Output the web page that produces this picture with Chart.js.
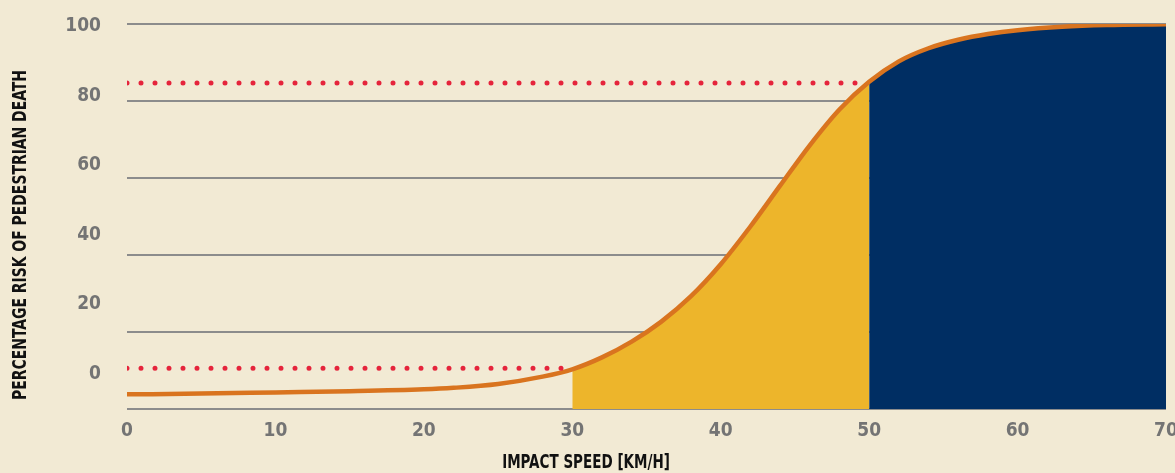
<!DOCTYPE html>
<html lang="en">
<head>
    <meta charset="UTF-8">
    <title>Pedestrian death risk by impact speed</title>
    <script src="https://cdn.jsdelivr.net/npm/chart.js"></script>
    <style>
        body {
            margin: 0;
            background-color: #F2EAD4; /* beige */
        }
        .chart-box {
            width: 1175px;
            height: 473px;
            position: relative;
        }
    </style>
</head>
<body>

    <div class="chart-box">
        <canvas id="riskChart"></canvas>
    </div>

<script>
    // impact speed (km/h) and risk of death (%)
    const speeds = [0, 5, 10, 15, 20, 22, 25, 28, 30, 32, 34, 36, 38, 40, 42, 44, 46, 48, 50, 52, 54, 56, 58, 60, 63, 66, 70];
    const risk = [3.8, 4.0, 4.3, 4.6, 5.1, 5.5, 6.5, 8.4, 10.3, 13.4, 17.5, 22.7, 29.3, 37.6, 47.4, 58.0, 68.5, 77.8, 85.0, 90.3, 93.7, 95.9, 97.4, 98.4, 99.3, 99.75, 99.95];

    // shaded bands: [from, to] speed
    const yellowBand = [30, 50];
    const navyBand = [50, 70];

    // dotted reference lines: speed where they stop and risk level
    const refSpeeds = [29.5, 49.2];
    const refRisk = [10.6, 84.7];

    const xTicks = [0, 10, 20, 30, 40, 50, 60, 70];
    const yTickLabels = [0, 20, 40, 60, 80, 100];

    const xTitle = "IMPACT SPEED [KM/H]";
    const yTitle = "PERCENTAGE RISK OF PEDESTRIAN DEATH";

    const narrow = "'Liberation Sans Narrow', 'DejaVu Sans Condensed', sans-serif";

    const curve = speeds.map((s, i) => ({ x: s, y: risk[i] }));
    const band = (r) => curve.filter(p => p.x >= r[0] && p.x <= r[1]);
    const refLine = (i) => [{ x: 0, y: refRisk[i] }, { x: refSpeeds[i], y: refRisk[i] }];

    // axis titles sit off-centre in the original, so draw them by hand
    const titlePlugin = {
        id: 'titles',
        afterDraw(chart) {
            const ctx = chart.ctx;
            ctx.save();
            ctx.fillStyle = '#111';
            ctx.font = 'bold 19px ' + narrow;
            ctx.textAlign = 'center';
            ctx.textBaseline = 'middle';
            ctx.save();
            ctx.translate(586, 463);
            ctx.scale(0.79, 1);
            ctx.fillText(xTitle, 0, 0);
            ctx.restore();
            ctx.translate(21, 235);
            ctx.rotate(-Math.PI / 2);
            ctx.scale(0.815, 1);
            ctx.fillText(yTitle, 0, 0);
            ctx.restore();
        }
    };

    const dotted = {
        borderColor: '#E5243B',
        borderWidth: 5,
        borderDash: [0, 14],
        borderCapStyle: 'round',
        pointRadius: 0,
        fill: false,
        order: 0
    };

    const ctx = document.getElementById('riskChart').getContext('2d');
    new Chart(ctx, {
        type: 'line',
        data: {
            datasets: [
                Object.assign({ data: refLine(0) }, dotted),
                Object.assign({ data: refLine(1) }, dotted),
                {
                    data: curve,
                    borderColor: '#D9741F',
                    borderWidth: 4.5,
                    cubicInterpolationMode: 'monotone',
                    pointRadius: 0,
                    fill: false,
                    order: 1
                },
                {
                    data: band(yellowBand),
                    borderWidth: 0,
                    backgroundColor: '#EDB52B',
                    cubicInterpolationMode: 'monotone',
                    pointRadius: 0,
                    fill: 'start',
                    order: 2
                },
                {
                    data: band(navyBand),
                    borderWidth: 0,
                    backgroundColor: '#002E63',
                    cubicInterpolationMode: 'monotone',
                    pointRadius: 0,
                    fill: 'start',
                    order: 3
                }
            ]
        },
        options: {
            responsive: true,
            maintainAspectRatio: false,
            animation: false,
            devicePixelRatio: 1,
            layout: {
                padding: { left: 0, right: 9, top: 24, bottom: 0 }
            },
            plugins: {
                legend: { display: false },
                tooltip: { enabled: false }
            },
            scales: {
                x: {
                    type: 'linear',
                    min: 0,
                    max: 70,
                    afterBuildTicks: (s) => { s.ticks = xTicks.map(v => ({ value: v })); },
                    afterFit: (s) => { s.height = 64; s.paddingLeft = 0; s.paddingRight = 0; },
                    grid: { display: false, drawTicks: false },
                    border: { display: false },
                    ticks: {
                        padding: 11,
                        color: '#747474',
                        font: { family: narrow, size: 19, weight: 'bold' }
                    }
                },
                y: {
                    position: 'left',
                    min: 0,
                    max: 100,
                    ticks: { stepSize: 20, display: false },
                    afterFit: (s) => { s.width = 0; s.paddingTop = 0; s.paddingBottom = 0; },
                    grid: { color: '#8C8C8C', lineWidth: 2, drawTicks: false },
                    border: { display: false }
                },
                yLabels: {
                    position: 'left',
                    min: -10.1,
                    max: 100.6,
                    afterBuildTicks: (s) => { s.ticks = yTickLabels.map(v => ({ value: v })); },
                    afterFit: (s) => { s.width = 127; s.paddingTop = 0; s.paddingBottom = 0; },
                    grid: { display: false, drawTicks: false },
                    border: { display: false },
                    ticks: {
                        padding: 26,
                        color: '#747474',
                        font: { family: narrow, size: 19, weight: 'bold' }
                    }
                }
            }
        },
        plugins: [titlePlugin]
    });
</script>

</body>
</html>
